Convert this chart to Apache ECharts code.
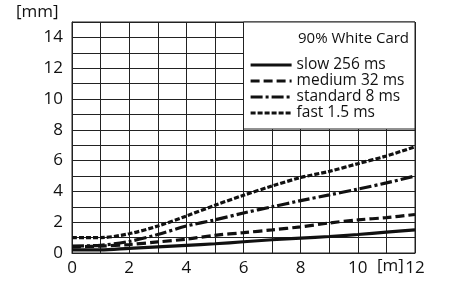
<!DOCTYPE html>
<html>
<head>
<meta charset="UTF-8">
<title>90% White Card</title>
<script src="https://cdn.jsdelivr.net/npm/echarts@6/dist/echarts.min.js"></script>
<style>
    html, body { margin: 0; padding: 0; background: #fff; }
    #chart { width: 460px; height: 285px; }
</style>
</head>
<body>
<div id="chart"></div>
<script>
    // distance [m]
    var distance = [0, 1, 2, 3, 4, 5, 6, 7, 8, 9, 10, 11, 12];
    // spot size [mm] per mode
    var slow     = [0.2, 0.2, 0.3, 0.4, 0.5, 0.6, 0.73, 0.86, 0.97, 1.07, 1.2, 1.35, 1.5];
    var medium   = [0.4, 0.45, 0.55, 0.72, 0.9, 1.15, 1.32, 1.5, 1.7, 1.95, 2.15, 2.3, 2.5];
    var standard = [0.45, 0.5, 0.75, 1.2, 1.75, 2.15, 2.6, 3.0, 3.4, 3.77, 4.15, 4.55, 5.0];
    var fast     = [1.0, 1.0, 1.25, 1.75, 2.4, 3.1, 3.75, 4.35, 4.9, 5.3, 5.8, 6.3, 6.9];

    var names = ['slow 256 ms', 'medium 32 ms', 'standard 8 ms', 'fast 1.5 ms'];
    var title = '90% White Card';

    var font = '"Open Sans", "Noto Sans", sans-serif';
    var gridColor = '#222';

    function pairs(ys) {
        return distance.map(function (x, i) { return [x, ys[i]]; });
    }

    function lineSeries(name, ys, dash) {
        return {
            name: name,
            type: 'line',
            data: pairs(ys),
            symbol: 'none',
            smooth: 0.3,
            itemStyle: { color: '#111' },
            lineStyle: { color: '#111', width: 3.2, type: dash },
            z: 3
        };
    }

    var chart = echarts.init(document.getElementById('chart'));
    var option = {
        animation: false,
        backgroundColor: '#fff',
        grid: { left: 72, right: 45, top: 22, bottom: 32, show: true, borderColor: gridColor, borderWidth: 1 },
        xAxis: {
            type: 'value',
            min: 0, max: 12, interval: 1,
            axisLine: { lineStyle: { color: gridColor, width: 1 } },
            axisTick: { show: false },
            splitLine: { lineStyle: { color: gridColor, width: 1 } },
            axisLabel: {
                margin: 7, fontSize: 17, color: '#111', fontFamily: font,
                formatter: function (v) { return v % 2 === 0 ? String(v) : ''; }
            }
        },
        yAxis: {
            type: 'value',
            min: 0, max: 15, interval: 1,
            axisLine: { lineStyle: { color: gridColor, width: 1 } },
            axisTick: { show: false },
            splitLine: { lineStyle: { color: gridColor, width: 1 } },
            axisLabel: {
                margin: 9, fontSize: 17, color: '#111', fontFamily: font,
                formatter: function (v) { return v % 2 === 0 ? String(v) : ''; }
            }
        },
        legend: {
            orient: 'vertical',
            left: 249, top: 57,
            itemWidth: 41, itemHeight: 14, itemGap: 0,
            padding: 0,
            z: 20,
            data: names,
            itemStyle: { opacity: 0 },
            lineStyle: { width: 3.2, opacity: 1 },
            textStyle: { fontSize: 15.5, lineHeight: 14, color: '#111', fontFamily: font }
        },
        graphic: [
            {
                type: 'rect', z: 10,
                shape: { x: 243.5, y: 22, width: 171.5, height: 107 },
                style: { fill: '#fff', stroke: gridColor, lineWidth: 1 }
            },
            {
                type: 'text', z: 21, left: 298, top: 31,
                style: { text: title, fontSize: 15, fill: '#111', fontFamily: font }
            },
            {
                type: 'text', z: 21, left: 16, top: 4,
                style: { text: '[mm]', fontSize: 17, fill: '#111', fontFamily: font }
            },
            {
                type: 'text', z: 21, left: 377, top: 258,
                style: { text: '[m]', fontSize: 17, fill: '#111', fontFamily: font }
            }
        ],
        series: [
            lineSeries(names[0], slow, 'solid'),
            lineSeries(names[1], medium, [9, 4]),
            lineSeries(names[2], standard, [12, 3, 3, 3]),
            lineSeries(names[3], fast, [5, 2])
        ]
    };
    chart.setOption(option);
</script>
</body>
</html>
